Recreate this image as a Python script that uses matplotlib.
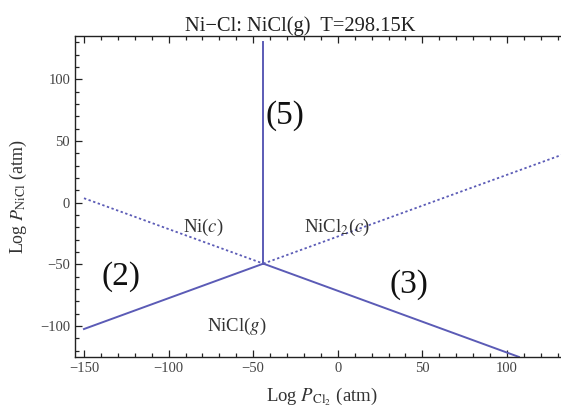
import numpy as np
import matplotlib.pyplot as plt
from matplotlib.ticker import MultipleLocator

plt.rcParams['font.family'] = ['Liberation Serif', 'DejaVu Serif']
plt.rcParams['mathtext.fontset'] = 'stix'

# boundary lines, Log P_Cl2 vs Log P_NiCl (atm)
line2_x = [-150.0, -44.0]
line2_y = [-102.4, -49.4]
line3_x = [-44.0, 107.0]
line3_y = [-49.4, -125.0]
line5_x = [-44.0, -44.0]
line5_y = [-49.4, 130.0]
# metastable extensions (dotted)
ni_x = [-150.0, -44.0]
ni_y = [3.6, -49.4]
nicl2_x = [-44.0, 132.0]
nicl2_y = [-49.4, 38.6]

xlim = (-155.3, 131.9)
ylim = (-125.3, 135.1)

line_col = '#5b5bb6'

fig = plt.figure(figsize=(5.61, 4.08), dpi=100)
ax = fig.add_axes([0.1337, 0.1243, 0.8663, 0.7875])

ax.plot(line2_x, line2_y, color=line_col, lw=1.4)
ax.plot(line3_x, line3_y, color=line_col, lw=1.4)
ax.plot(line5_x, line5_y, color=line_col, lw=1.4)
ax.plot(ni_x, ni_y, color=line_col, lw=1.3, ls=(0, (1.3, 1.4)))
ax.plot(nicl2_x, nicl2_y, color=line_col, lw=1.3, ls=(0, (1.3, 1.4)))

ax.set_xlim(*xlim)
ax.set_ylim(*ylim)

ax.xaxis.set_major_locator(MultipleLocator(50))
ax.xaxis.set_minor_locator(MultipleLocator(10))
ax.yaxis.set_major_locator(MultipleLocator(50))
ax.yaxis.set_minor_locator(MultipleLocator(10))
ax.tick_params(which='both', direction='in', top=True, right=False,
               colors='#222222', labelcolor='#444444', labelsize=10.5, width=0.9)
ax.tick_params(which='major', length=5)
ax.tick_params(which='minor', length=3)
fmt = plt.FuncFormatter(lambda v, p: f'{v:.0f}'.replace('-', '\u2212'))
ax.xaxis.set_major_formatter(fmt)
ax.yaxis.set_major_formatter(fmt)
ax.spines['right'].set_visible(False)
for s in ['left', 'bottom', 'top']:
    ax.spines[s].set_color('#222222')
    ax.spines[s].set_linewidth(1.0)

ax.set_title('Ni\u2212Cl: NiCl(g)  T=298.15K', fontsize=14.8, color='#222222', pad=3,
             x=0.463)
ax.set_xlabel(r'Log $P_{\mathrm{Cl}_2}$ (atm)', fontsize=13.5, color='#333333')
ax.set_ylabel(r'Log $P_{\mathrm{NiCl}}$ (atm)', fontsize=13, color='#333333', labelpad=8)
ax.xaxis.set_label_coords(0.508, -0.088)

ax.text(-31.2, 70.3, '(5)', fontsize=24, ha='center', va='center', color='#111111')
ax.text(-128.0, -60.3, '(2)', fontsize=24, ha='center', va='center', color='#111111')
ax.text(42.1, -66.7, '(3)', fontsize=24, ha='center', va='center', color='#111111')
ax.text(-79.7, -19.7, r'Ni($c$)', fontsize=13.5, ha='center', va='center', color='#333333')
ax.text(-0.5, -19.7, r'NiCl$_2$($c$)', fontsize=13.5, ha='center', va='center', color='#333333')
ax.text(-59.6, -100.0, r'NiCl($g$)', fontsize=13.5, ha='center', va='center', color='#333333')

fig.savefig('out.png', dpi=100)
